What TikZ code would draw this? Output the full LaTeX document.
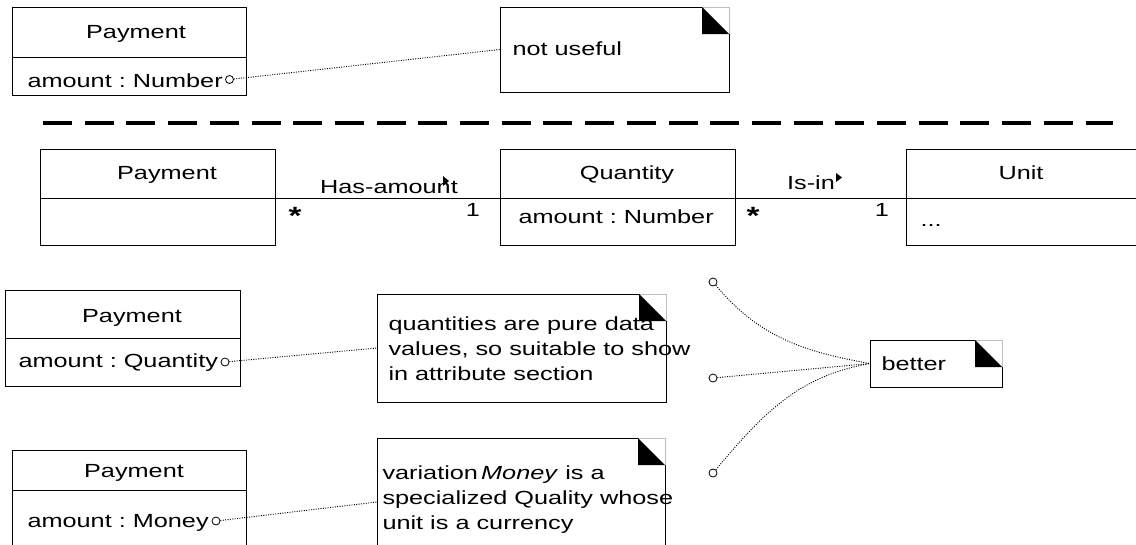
\documentclass[tikz,border=0pt]{standalone}
\usepackage{fontspec}
\setmainfont{Liberation Sans}[FakeStretch=1.33]
\usetikzlibrary{positioning,calc}

% folded corner of a note
\newcommand{\dogear}[1]{%
  \draw[line width=0.6pt,lightgray] ([xshift=-27]#1.north east) -- (#1.north east) -- ([yshift=-27]#1.north east);
  \fill ([xshift=-27]#1.north east) -- ([xshift=-27,yshift=-27]#1.north east) -- ([yshift=-27]#1.north east) -- cycle;
  \draw ([xshift=-27]#1.north east) -- (#1.north west) -- (#1.south west) -- (#1.south east) -- ([yshift=-27]#1.north east);}

\begin{document}
\frenchspacing
\begin{tikzpicture}[x=1pt,y=-1pt,line width=1pt,
  font=\fontsize{19}{25}\selectfont,
  cell/.style={draw,anchor=north west,inner sep=0,outer sep=0},
  umlnote/.style={anchor=north west,inner sep=0,outer sep=0},
  lbl/.style={inner sep=0,anchor=base},
  star/.style={inner sep=0,anchor=base,font=\fontsize{25}{25}\selectfont\bfseries},
  attr/.style={inner sep=0,anchor=base west},
  txt/.style={inner sep=0,anchor=base west,align=left},
  endc/.style={circle,draw,line width=0.8pt,fill=white,minimum size=8pt,inner sep=0},
  link/.style={line width=0.9pt,dash pattern=on 1pt off 1.4pt},
  assoc/.style={line width=1pt}]
  \useasboundingbox (0,0) rectangle (1136,544);
  \clip (0,0) rectangle (1136,544);

  % plain number
  \node[cell,minimum width=234,minimum height=50] (pay1) at (12,7) {};
  \node[cell,minimum width=234,minimum height=38] (pay1a) at (pay1.south west) {};
  \node[lbl] (pay1t) at (136,38) {Payment};
  \node[attr] (pay1x) at (27,87) {amount : Number};
  \node[endc] (c1) at (229.5,79.5) {};
  \node[umlnote,minimum width=229,minimum height=85] (n1) at (500,7) {};
  \node[txt] (n1t) at (512,55) {not useful};
  \dogear{n1}
  \draw[link] (c1) -- (n1.west);

  \draw[line width=4pt,dash pattern=on 29pt off 12.7pt] (43,123.3) -- (1113,123.3);

  % quantity as a class
  \node[cell,minimum width=235,minimum height=49] (pay2) at (40,149) {};
  \node[cell,minimum width=235,minimum height=47] (pay2a) at (pay2.south west) {};
  \node[lbl] (pay2t) at (167,179) {Payment};
  \node[cell,minimum width=235,minimum height=49] (qty) at (500,149) {};
  \node[cell,minimum width=235,minimum height=47] (qtya) at (qty.south west) {};
  \node[lbl] (qtyt) at (627,179) {Quantity};
  \node[attr] (qtyx) at (518,223) {amount : Number};
  \node[cell,minimum width=240,minimum height=49] (unit) at (906,149) {};
  \node[cell,minimum width=240,minimum height=47] (unita) at (unit.south west) {};
  \node[lbl] (unitt) at (1021,179) {Unit};
  \node[attr] (unitx) at (920,226) {...};

  \draw[assoc] (pay2a.north east) -- (qtya.north west);
  \draw[assoc] (qtya.north east) -- (unita.north west);
  \node[lbl] (has) at (389,193) {Has-amount};
  \fill (443,176) -- (443,186) -- (449,181) -- cycle;
  \node[lbl] (isin) at (811,189) {Is-in};
  \fill (836,173) -- (836,182) -- (842,177.5) -- cycle;
  \node[star] (m1) at (295,224) {*};
  \node[lbl] (m2) at (473,216) {1};
  \node[star] (m3) at (753,224) {*};
  \node[lbl] (m4) at (882,216) {1};

  % quantity as attribute type
  \node[cell,minimum width=235,minimum height=48] (pay3) at (5,290) {};
  \node[cell,minimum width=235,minimum height=48] (pay3a) at (pay3.south west) {};
  \node[lbl] (pay3t) at (132,322) {Payment};
  \node[attr] (pay3x) at (18,367) {amount : Quantity};
  \node[endc] (c3) at (225,362) {};
  \node[umlnote,minimum width=289,minimum height=108] (n2) at (377,294) {};
  \node[txt] (n2t) at (388,380) {quantities are pure data\\values, so suitable to show\\in attribute section};
  \dogear{n2}
  \draw[link] (c3) -- (n2.west);

  % money
  \node[cell,minimum width=234,minimum height=40] (pay4) at (12,450) {};
  \node[cell,minimum width=234,minimum height=60] (pay4a) at (pay4.south west) {};
  \node[lbl] (pay4t) at (134,477) {Payment};
  \node[attr] (pay4x) at (27,527) {amount : Money};
  \node[endc] (c4) at (216,521) {};
  \node[umlnote,minimum width=288,minimum height=128] (n3) at (377,438) {};
  \node[txt] (n3t) at (382,529) {variation\,\textit{Money} is a\\specialized Quality whose\\unit is a currency};
  \dogear{n3}
  \draw[link] (c4) -- (n3.west);

  % better
  \node[umlnote,minimum width=132,minimum height=47] (n4) at (870,340) {};
  \node[txt] (n4t) at (881,370) {better};
  \dogear{n4}
  \node[endc] (c5) at (713,282) {};
  \node[endc] (c6) at (713,378) {};
  \node[endc] (c7) at (713,473) {};
  \draw[link] (c5) to[out=-50,in=170] (n4.west);
  \draw[link] (c6) -- (n4.west);
  \draw[link] (c7) to[out=50,in=190] (n4.west);
\end{tikzpicture}
\end{document}
